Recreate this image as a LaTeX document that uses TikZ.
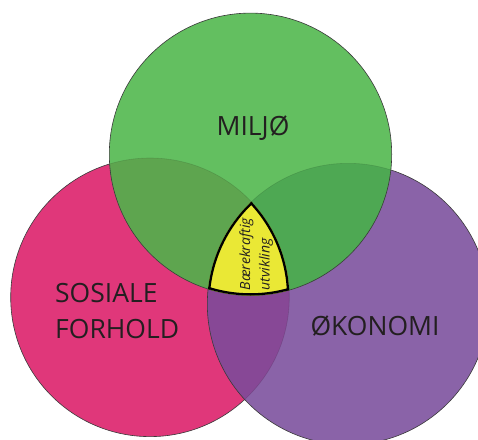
\documentclass[tikz,border=0pt]{standalone}
\usepackage{fontspec}
\setmainfont{Open Sans}
\definecolor{cgreen}{HTML}{63BF60}
\definecolor{cpink}{HTML}{E0377A}
\definecolor{cpurple}{HTML}{8A63A8}
\definecolor{cgp}{HTML}{5EA54F}
\definecolor{cgu}{HTML}{4EA853}
\definecolor{cpu}{HTML}{874896}
\definecolor{cyel}{HTML}{EAE835}
\definecolor{ctext}{HTML}{231F20}
\definecolor{cline}{HTML}{3A3A3A}
\tikzset{
  outl/.style={draw=cline, line width=0.6pt},
  faint/.style={draw=black, line width=0.6pt, opacity=0.12},
  biglabel/.style={text=ctext, font=\fontsize{26.5}{36}\selectfont, inner sep=0pt},
  smalllabel/.style={text=ctext, font=\itshape\fontsize{14}{16}\selectfont, inner sep=0pt, rotate=90, anchor=base west}
}
\def\Pc{(150,297.3) circle[radius=139.3pt]}
\def\Uc{(348,304) circle[radius=140.7pt]}
\def\Gc{(250.5,154.3) circle[radius=141.2pt]}
\begin{document}
\begin{tikzpicture}[x=1pt,y=-1pt]
\useasboundingbox (0,0) rectangle (478,439);
\fill[white] (0,0) rectangle (478,439);
\clip (0,0) rectangle (478,439);
% pink
\fill[cpink] \Pc;
\path[outl] \Pc;
% purple
\fill[cpurple] \Uc;
\begin{scope}
  \clip \Pc;
  \fill[cpu] \Uc;
\end{scope}
\path[outl] \Uc;
\begin{scope}
  \clip \Uc;
  \path[faint] \Pc;
\end{scope}
% green
\fill[cgreen] \Gc;
\begin{scope}
  \clip \Gc;
  \fill[cgp] \Pc;
  \fill[cgu] \Uc;
  \path[faint] \Pc;
  \path[faint] \Uc;
\end{scope}
\path[outl] \Gc;
% yellow centre
\begin{scope}
  \clip \Pc;
  \clip \Uc;
  \clip \Gc;
  \fill[cyel] (0,0) rectangle (478,439);
  \draw[black, line width=4.6pt] \Pc;
  \draw[black, line width=4.6pt] \Uc;
  \draw[black, line width=4.6pt] \Gc;
\end{scope}
% labels
\node[biglabel] (miljo) at (253,128) {MILJØ};
\node[biglabel, anchor=north west, align=left] (sosiale) at (55,283) {SOSIALE\\FORHOLD};
\node[biglabel] (okonomi) at (375,326.5) {ØKONOMI};
\node[smalllabel] (baere) at (250,290.5) {Bærekraftig};
\node[smalllabel] (utv) at (269.5,290.5) {utvikling};
\end{tikzpicture}
\end{document}
